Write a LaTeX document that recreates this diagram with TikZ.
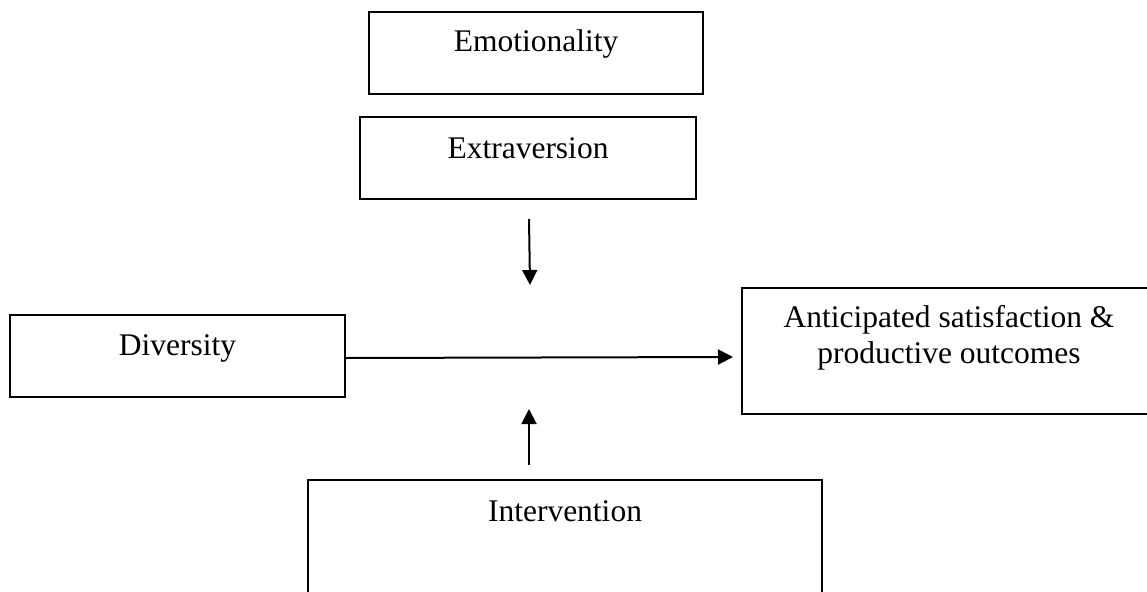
\documentclass[tikz,border=0pt]{standalone}
\usepackage{fontspec}
\setmainfont{Liberation Serif}
\usetikzlibrary{arrows.meta}
\begin{document}
\begin{tikzpicture}[x=1pt,y=-1pt,
  box/.style={draw, line width=2pt, inner sep=0pt},
  lbl/.style={font=\fontsize{31.5}{36}\selectfont, inner sep=0pt, anchor=base, align=center},
  arr/.style={line width=2pt, -{Triangle[length=15pt,width=15pt]}}]
\useasboundingbox (0,0) rectangle (1147,591);
% boxes
\node[box, minimum width=334pt, minimum height=82pt] (emo) at (536,53) {};
\node[box, minimum width=336pt, minimum height=82pt] (ext) at (528,158) {};
\node[box, minimum width=335pt, minimum height=82pt] (div) at (177.5,356) {};
\node[box, minimum width=414pt, minimum height=126pt] (ant) at (949,351) {};
\node[box, minimum width=514pt, minimum height=160pt] (int) at (565,560) {};
% labels
\node[lbl] (emot) at (536,52) {Emotionality};
\node[lbl] (extt) at (528,158) {Extraversion};
\node[lbl] (divt) at (177.5,355) {Diversity};
\node[lbl] (antt) at (949,363) {Anticipated satisfaction \&\\productive outcomes};
\node[lbl] (intt) at (565,521) {Intervention};
% connector end points
\coordinate (d1) at (529,219);
\coordinate (d2) at (530,285);
\coordinate (u1) at (529,465);
\coordinate (u2) at (529,409);
% connectors
\draw[arr] (d1) -- (d2);
\draw[arr] (u1) -- (u2);
\draw[arr] ([yshift=-2pt]div.east) -- ([xshift=-8pt]ant.west |- 0,357);
\end{tikzpicture}
\end{document}
